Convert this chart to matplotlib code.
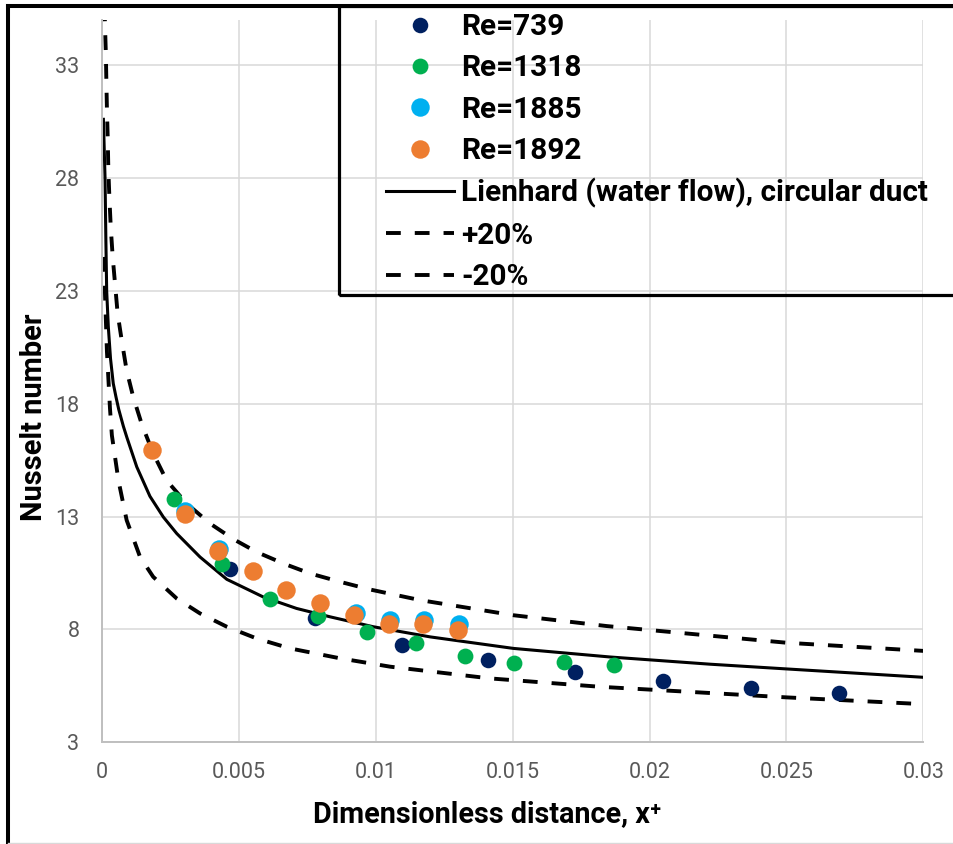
import matplotlib
matplotlib.use('Agg')
import matplotlib.pyplot as plt
from matplotlib.lines import Line2D
from matplotlib.patches import Rectangle
from matplotlib.font_manager import FontProperties

# ---------------- data ----------------
re739_x = [0.00467, 0.00777, 0.01094, 0.01411, 0.01728, 0.02048, 0.0237, 0.02693]
re739_y = [10.67, 8.49, 7.31, 6.64, 6.12, 5.73, 5.39, 5.17]

re1318_x = [0.00262, 0.00436, 0.00613, 0.0079, 0.00969, 0.01147, 0.01326, 0.01506, 0.01688, 0.01868]
re1318_y = [13.77, 10.89, 9.35, 8.59, 7.89, 7.38, 6.82, 6.50, 6.57, 6.42]

re1885_x = [0.00304, 0.00427, 0.00927, 0.01053, 0.01177, 0.01304]
re1885_y = [13.25, 11.55, 8.73, 8.41, 8.44, 8.22]

re1892_x = [0.00181, 0.00302, 0.00424, 0.00552, 0.00671, 0.00796, 0.00921, 0.01047, 0.01171, 0.01298]
re1892_y = [15.93, 13.13, 11.46, 10.59, 9.74, 9.18, 8.63, 8.23, 8.23, 7.97]

lien_x = [0.00004, 0.00007, 0.0001, 0.00013, 0.00016, 0.00022, 0.0003, 0.0004, 0.0005, 0.0006,
          0.00077, 0.0009, 0.00126, 0.00174, 0.00223, 0.00272, 0.00357, 0.00455, 0.00588, 0.0071,
          0.00832, 0.0099, 0.01198, 0.01502, 0.01855, 0.02221, 0.02501, 0.03]
lien_y = [30.6, 29.3, 28.0, 25.3, 23.0, 21.4, 20.0, 18.9, 18.3, 17.75,
          17.0, 16.5, 15.2, 13.9, 12.98, 12.25, 11.21, 10.22, 9.44, 8.93,
          8.56, 8.12, 7.67, 7.16, 6.78, 6.46, 6.25, 5.88]

plus_x = [0.00008, 0.0001, 0.00013, 0.00015, 0.00017, 0.0002, 0.00022, 0.00026, 0.00031, 0.00038,
          0.00056, 0.00071, 0.00089, 0.00113, 0.00144, 0.00186, 0.00235, 0.00308, 0.00394, 0.00479,
          0.00564, 0.00662, 0.00759, 0.00869, 0.00978, 0.01161, 0.01502, 0.01843, 0.02501, 0.03]
plus_y = [35.6, 34.7, 33.5, 32.2, 31.0, 29.7, 28.4, 27.1, 25.8, 24.5,
          22.0, 20.8, 19.47, 18.3, 17.1, 15.8, 14.6, 13.58, 12.69, 12.0,
          11.43, 10.92, 10.48, 10.11, 9.77, 9.3, 8.63, 8.15, 7.41, 7.05]

minus_x = [0.00004, 0.00006, 0.0001, 0.00017, 0.00028, 0.00035, 0.00059, 0.00089, 0.00138, 0.00186,
           0.00272, 0.00357, 0.00455, 0.00564, 0.00686, 0.00869, 0.01052, 0.01417, 0.01819, 0.02501, 0.03]
minus_y = [24.5, 24.27, 22.8, 20.3, 17.8, 16.6, 14.6, 12.84, 11.21, 10.33,
           9.37, 8.71, 8.12, 7.6, 7.16, 6.72, 6.35, 5.83, 5.46, 4.99, 4.69]

x_ticks = [0, 0.005, 0.01, 0.015, 0.02, 0.025, 0.03]
x_tick_labels = ['0', '0.005', '0.01', '0.015', '0.02', '0.025', '0.03']
y_ticks = [3, 8, 13, 18, 23, 28, 33]

labels = ['Re=739', 'Re=1318', 'Re=1885', 'Re=1892',
          'Lienhard (water flow), circular duct', '+20%', '-20%']

# ---------------- figure ----------------
W, H = 954, 844
fig = plt.figure(figsize=(W / 100, H / 100), dpi=100)
ax = fig.add_axes([102.3 / W, 1 - 742.3 / H, (923.3 - 102.3) / W, (742.3 - 20) / H])

GRID = '#D9D9D9'
TICKC = '#595959'

h_lien, = ax.plot(lien_x, lien_y, color='black', lw=2.2, zorder=2, label=labels[4])
h_plus, = ax.plot(plus_x, plus_y, color='black', lw=2.8, dashes=(3.8, 3.6), zorder=2, label=labels[5])
h_minus, = ax.plot(minus_x, minus_y, color='black', lw=2.8, dashes=(3.8, 3.6), zorder=2, label=labels[6])

h739, = ax.plot(re739_x, re739_y, 'o', ls='none', ms=11.2, color='#002060', mec='none', zorder=3, label=labels[0])
h1318, = ax.plot(re1318_x, re1318_y, 'o', ls='none', ms=11.4, color='#00B050', mec='none', zorder=3, label=labels[1])
h1885, = ax.plot(re1885_x, re1885_y, 'o', ls='none', ms=13.3, color='#00B0F0', mec='none', zorder=3, label=labels[2])
h1892, = ax.plot(re1892_x, re1892_y, 'o', ls='none', ms=13.3, color='#ED7D31', mec='none', zorder=3, label=labels[3])

ax.set_xlim(0, 0.03)
ax.set_ylim(3, 35)
ax.set_xticks(x_ticks)
ax.set_xticklabels(x_tick_labels)
ax.set_yticks(y_ticks)
ax.grid(True, color=GRID, lw=1.1, zorder=0)
ax.set_axisbelow(True)
for s in ['top', 'right']:
    ax.spines[s].set_visible(False)
for s in ['left', 'bottom']:
    ax.spines[s].set_color('#BFBFBF')
    ax.spines[s].set_linewidth(1.4)
ax.tick_params(length=0, labelcolor=TICKC, labelsize=15.5)
ax.tick_params(axis='x', pad=14.5)
ax.tick_params(axis='y', pad=16.5)
for lab in ax.get_xticklabels() + ax.get_yticklabels():
    lab.set_family('Roboto')

renderer = fig.canvas.get_renderer()

def fit(text, target, use_height=False):
    bb = text.get_window_extent(renderer)
    cur = bb.height if use_height else bb.width
    text.set_fontsize(text.get_fontsize() * target / cur)

# axis titles
ylab = fig.text(34 / W, 1 - 417 / H, 'Nusselt number', rotation=90, ha='center', va='center',
                family=['Roboto', 'DejaVu Sans'], weight='bold', fontsize=20)
fit(ylab, 207, use_height=True)
xlab = fig.text(487 / W, 1 - 814 / H, 'Dimensionless distance, x\u207a', ha='center', va='center',
                family=['Roboto', 'DejaVu Sans'], weight='bold', fontsize=20)
fit(xlab, 347)

# legend font size from the longest entry
tmp = fig.text(0, 0, labels[4], family='Roboto', weight='bold', fontsize=20)
w = tmp.get_window_extent(renderer).width
tmp.remove()
lfs = 20 * 466 / w
fs_px = lfs * 100 / 72

handles = [h739, h1318, h1885, h1892, h_lien, h_plus, h_minus]
lab_sp = 0.5
x0, y0 = 385 / W, 1 - 8 / H

def make_leg(x0, y0, lab_sp):
    lg = ax.legend(handles, labels, loc='upper left', bbox_to_anchor=(x0, y0),
                   bbox_transform=fig.transFigure, frameon=False, borderpad=0,
                   borderaxespad=0, handlelength=68 / fs_px, handletextpad=7.5 / fs_px,
                   labelspacing=lab_sp, numpoints=1,
                   prop=FontProperties(family='Roboto', weight='bold', size=lfs))
    return lg

leg = make_leg(x0, y0, lab_sp)
for _ in range(3):
    fig.canvas.draw()
    tb = [t.get_window_extent(renderer) for t in leg.get_texts()]
    c0 = (tb[0].y0 + tb[0].y1) / 2
    c6 = (tb[-1].y0 + tb[-1].y1) / 2
    sp = (c0 - c6) / 6
    lab_sp += (41.7 - sp) / fs_px
    dx = 461 - tb[0].x0
    dy = (H - 27) - c0
    x0 += dx / W
    y0 += dy / H
    leg.remove()
    leg = make_leg(x0, y0, lab_sp)

# legend box and outer frame
fig.patches.append(Rectangle((338.8 / W, 1 - 295 / H), 0.8, (295 - 6) / H, transform=fig.transFigure,
                             fill=False, edgecolor='black', lw=2.3, zorder=5))
fig.lines.append(Line2D([8 / W, 1.01], [1 - 6 / H, 1 - 6 / H], transform=fig.transFigure,
                        color='black', lw=2.9, solid_capstyle='projecting'))
fig.lines.append(Line2D([8 / W, 8 / W], [-0.01, 1 - 6 / H], transform=fig.transFigure,
                        color='black', lw=2.9, solid_capstyle='projecting'))
fig.lines.append(Line2D([8 / W, 1.0], [0.6 / H, 0.6 / H], transform=fig.transFigure,
                        color=GRID, lw=1.0))

fig.savefig('out.png', dpi=100)
